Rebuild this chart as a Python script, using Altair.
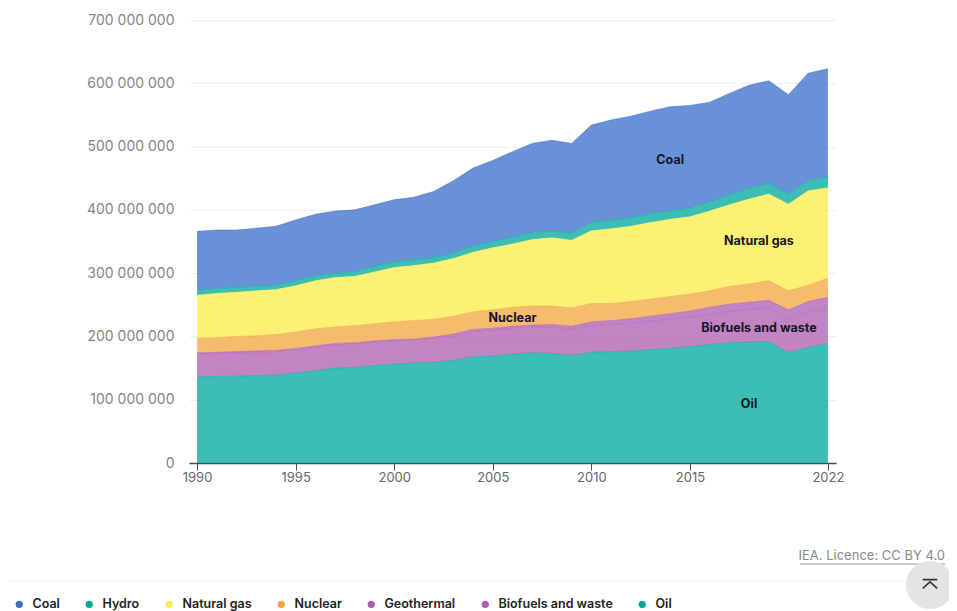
import altair as alt
import pandas as pd

years = list(range(1990, 2023))
series_names = ["Coal", "Hydro", "Natural gas", "Nuclear", "Geothermal", "Biofuels and waste", "Oil"]
M = 1_000_000

coal = [93,92,90,92,93,96,97,98,97,97,98,99,104,114,123,128,135,141,143,142,153,159,160,162,164,162,157,160,163,162,157,170,171]
hydro = [8,8,8,7,7,8,8,7,8,9,9,9,9,9,10,10,11,11,11,11,14,13,14,14,14,14,15,16,17,17,16,16,17]
natural_gas = [68,70,70,71,71,73,76,78,78,82,86,87,89,91,94,98,100,105,108,107,115,118,119,121,122,122,126,129,134,137,137,149,143]
nuclear = [23,23,24,24,25,26,27,26,27,27,28,29,28,28,28,29,30,30,29,29,29,27,27,27,27,27,26,28,29,31,30,26,30]
geothermal = [2,2,2,2,2,2,2,2,2,2,2,2,2,3,3,3,3,3,4,5,6,6,7,8,9,10,12,11,11,12,15,17,19]
biofuels = [36,36,37,37,37,37,37,37,37,37,37,36,38,39,40,41,41,41,42,41,42,43,44,45,46,46,47,50,52,53,53,55,55]
oil = [136,137,137,138,139,142,146,150,151,154,156,158,159,162,168,169,172,174,173,170,175,176,177,179,181,184,187,190,191,192,174,183,188]
all_series = [coal, hydro, natural_gas, nuclear, geothermal, biofuels, oil]

colors = ["#3a6fcc", "#00a89c", "#fdec4a", "#f3a63e", "#ae5db2", "#b05db2", "#00a99d"]
label_texts = ["Coal", "Natural gas", "Nuclear", "Biofuels and waste", "Oil"]
label_years = [2014, 2018.5, 2006, 2018.5, 2018]
label_values = [479, 351, 229, 213, 93]
y_ticks = [0, 100, 200, 300, 400, 500, 600, 700]
x_ticks = [1990, 1995, 2000, 2005, 2010, 2015, 2022]

rows = []
for i, (name, vals) in enumerate(zip(series_names, all_series)):
    for yr, v in zip(years, vals):
        rows.append({"year": yr, "series": name, "value": v * M, "rank": i})
df = pd.DataFrame(rows)

FONT = "Inter"
x_scale = alt.Scale(domain=[1989.59, 2022.41], nice=False, zero=False)
y_scale = alt.Scale(domain=[0, 700 * M], nice=False)

area = alt.Chart(df).mark_area(
    fillOpacity=0.76,
    line={"strokeWidth": 0.7, "strokeOpacity": 0.75},
).encode(
    x=alt.X("year:Q", scale=x_scale, title=None,
            axis=alt.Axis(values=x_ticks, format="d", grid=False, domainColor="#4a4a4a", domainWidth=1.5,
                          tickColor="#4a4a4a", tickSize=7, labelColor="#666666", labelFont=FONT,
                          labelFontSize=13, labelPadding=1, labelFlush=False)),
    y=alt.Y("value:Q", stack="zero", scale=y_scale, title=None,
            axis=alt.Axis(values=[v * M for v in y_ticks], domain=False, ticks=False, gridColor="#f0f0f0",
                          labelColor="#858585", labelFont=FONT, labelFontSize=14, labelPadding=15,
                          labelExpr="replace(format(datum.value, ','), /,/g, ' ')")),
    color=alt.Color("series:N", scale=alt.Scale(domain=series_names, range=colors),
                    legend=alt.Legend(orient="none", legendX=-176, legendY=578, direction="horizontal",
                                      columns=7, title=None, symbolType="circle", symbolSize=42,
                                      symbolOpacity=1, symbolStrokeWidth=1, labelFont=FONT, labelFontSize=12.5,
                                      labelFontWeight=600, labelColor="#222222", columnPadding=23,
                                      labelOffset=7)),
    order=alt.Order("rank:Q", sort="descending"),
)

labels = alt.Chart(pd.DataFrame({"t": label_texts, "x": label_years, "v": [v * M for v in label_values]})).mark_text(
    font=FONT, fontSize=12.5, fontWeight="bold", color="#14142a"
).encode(x=alt.X("x:Q", scale=x_scale), y=alt.Y("v:Q", scale=y_scale), text="t:N")

source = alt.Chart(pd.DataFrame({"t": ["IEA. Licence: CC BY 4.0"]})).mark_text(
    font=FONT, fontSize=13, color="#8a8a8a", align="right", baseline="middle"
).encode(x=alt.value(756), y=alt.value(536), text="t:N")
source_line = alt.Chart(pd.DataFrame({"t": ["u"]})).mark_rule(color="#9a9a9a", strokeWidth=1).encode(
    x=alt.value(611), x2=alt.value(756), y=alt.value(544))
divider = alt.Chart(pd.DataFrame({"t": ["d"]})).mark_rule(color="#f2f2f2", strokeWidth=1).encode(
    x=alt.value(-181), x2=alt.value(760), y=alt.value(561))
button = alt.Chart(pd.DataFrame({"t": ["b"]})).mark_point(
    filled=True, shape="circle", size=2300, color="#e4e4e4", opacity=1
).encode(x=alt.value(741), y=alt.value(565))
icon = alt.Chart(pd.DataFrame({"t": ["i"]})).mark_point(
    shape="M-1 -0.6L1 -0.6M-1 0.6L0 -0.3L1 0.6", size=210, filled=False, color="#333333", strokeWidth=1.6, opacity=1
).encode(x=alt.value(741), y=alt.value(564))

chart = alt.layer(area, labels, source, source_line, divider, button, icon).properties(
    width=647, height=443,
    autosize=alt.AutoSizeParams(type="none"),
    padding={"left": 181, "top": 12, "right": 113, "bottom": 148},
).configure_view(stroke=None)

chart.save("out.html", embed_options={"renderer": "svg", "actions": False})
